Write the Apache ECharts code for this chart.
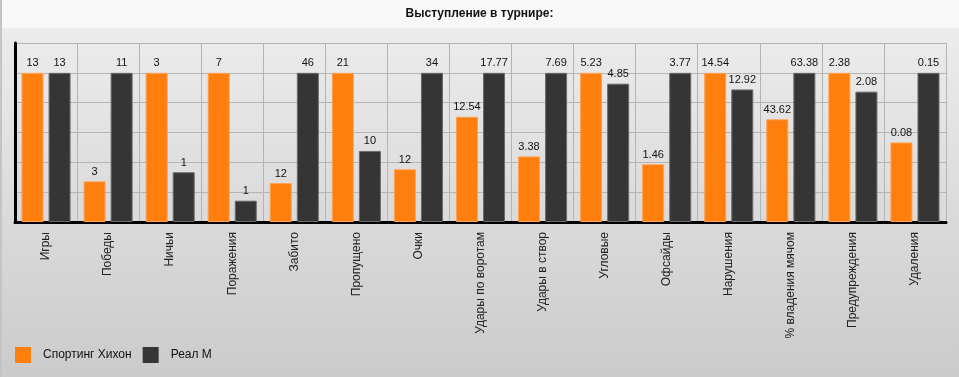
<!DOCTYPE html>
<html>
<head>
<meta charset="utf-8">
<script src="https://cdn.jsdelivr.net/npm/echarts@6/dist/echarts.min.js"></script>
<style>
  html, body { margin: 0; padding: 0; }
  #chart { width: 959px; height: 377px; }
</style>
</head>
<body>
<div id="chart"></div>
<script>
// категории и значения команд
var categories = ['Игры', 'Победы', 'Ничьи', 'Поражения', 'Забито', 'Пропущено', 'Очки',
  'Удары по воротам', 'Удары в створ', 'Угловые', 'Офсайды', 'Нарушения',
  '% владения мячом', 'Предупреждения', 'Удаления'];
var sportingValues = [13, 3, 3, 7, 12, 21, 12, 12.54, 3.38, 5.23, 1.46, 14.54, 43.62, 2.38, 0.08];
var realValues = [13, 11, 1, 1, 46, 10, 34, 17.77, 7.69, 4.85, 3.77, 12.92, 63.38, 2.08, 0.15];
var seriesNames = ['Спортинг Хихон', 'Реал М'];
var yTicks = [0, 0.2, 0.4, 0.6, 0.8, 1, 1.2];

var font = 'Arial, "Liberation Sans", sans-serif';

// высота столбика = значение / максимум в паре
function norm(a, b) {
  var out = [];
  for (var i = 0; i < a.length; i++) {
    var m = Math.max(a[i], b[i]);
    out.push({ value: m ? a[i] / m : 0, raw: a[i] });
  }
  return out;
}

function makeSeries(name, data, color, border) {
  return {
    name: name,
    type: 'bar',
    data: data,
    barWidth: 22,
    barGap: '23%',
    itemStyle: { color: color, borderColor: border, borderWidth: 1 },
    label: {
      show: true,
      position: 'top',
      distance: 4,
      fontFamily: font,
      fontSize: 11,
      color: '#111',
      formatter: function (p) { return String(p.data.raw); }
    }
  };
}

var myChart = echarts.init(document.getElementById('chart'));
var option = {
  animation: false,
  graphic: [
    { type: 'rect', shape: { x: 0, y: 0, width: 959, height: 28 }, style: { fill: '#f8f8f8' }, z: -10 },
    { type: 'rect', shape: { x: 0, y: 28, width: 959, height: 349 },
      style: { fill: new echarts.graphic.LinearGradient(0, 0, 0, 1, [
        { offset: 0, color: '#ececec' }, { offset: 1, color: '#cbcbcb' }]) }, z: -10 },
    { type: 'rect', shape: { x: 0, y: 0, width: 2, height: 377 }, style: { fill: '#c4c4c4' }, z: -9 }
  ],
  title: {
    text: 'Выступление в турнире:',
    left: 'center',
    top: 3,
    textStyle: { fontFamily: font, fontSize: 12, fontWeight: 'bold', color: '#111' }
  },
  legend: {
    left: 15,
    top: 347,
    padding: 0,
    itemWidth: 16,
    itemHeight: 16,
    itemGap: 11,
    icon: 'rect',
    itemStyle: { borderWidth: 0 },
    textStyle: { fontFamily: font, fontSize: 12, color: '#111', padding: [0, 0, 0, 7] },
    data: seriesNames
  },
  grid: { left: 15, right: 13, top: 43, bottom: 155, containLabel: false },
  xAxis: {
    type: 'category',
    data: categories,
    axisLine: { lineStyle: { color: '#000', width: 3 } },
    axisTick: { alignWithLabel: true, length: 5, lineStyle: { color: '#000' } },
    axisLabel: { rotate: 90, interval: 0, margin: 10, fontFamily: font, fontSize: 12, color: '#222' },
    splitLine: { show: true, interval: 0, lineStyle: { color: '#b4b4b4' } }
  },
  yAxis: {
    type: 'value',
    min: yTicks[0],
    max: yTicks[yTicks.length - 1],
    interval: 0.2,
    axisLine: { show: true, lineStyle: { color: '#000', width: 3 } },
    axisTick: { show: false },
    axisLabel: { show: false },
    splitLine: { lineStyle: { color: '#b4b4b4' } }
  },
  series: [
    makeSeries(seriesNames[0], norm(sportingValues, realValues), '#ff7f0e', '#ffa050'),
    makeSeries(seriesNames[1], norm(realValues, sportingValues), '#353535', '#6a6a6a')
  ]
};
myChart.setOption(option);
</script>
</body>
</html>
